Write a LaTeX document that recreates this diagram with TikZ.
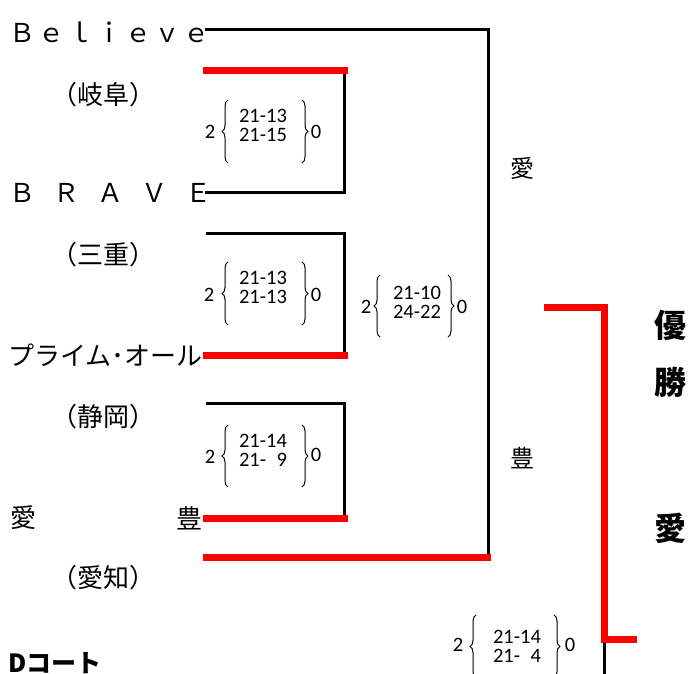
\documentclass[tikz,border=0pt]{standalone}
\usepackage{fontspec}
\usepackage{tikz}
\usetikzlibrary{decorations.pathreplacing}
\setmainfont{Noto Sans CJK JP}
\newfontfamily\scorefont{Carlito}
\definecolor{winred}{RGB}{255,0,0}
\tikzset{
  lost/.style={line width=3pt},
  won/.style={winred,line width=7pt},
  team/.style={font=\fontsize{26}{26}\selectfont,inner sep=0pt},
  mid/.style={font=\fontsize{24}{24}\selectfont,inner sep=0pt},
  champ/.style={font=\bfseries\fontsize{32}{32}\selectfont,inner sep=0pt},
  score/.style={font=\scorefont\fontsize{20.5}{19}\selectfont,align=center,inner sep=0pt},
  brace/.style={decorate,decoration={brace,amplitude=6pt},line width=1pt},
}

\begin{document}
\begin{tikzpicture}[x=1pt,y=-1pt]
        \clip (0,0) rectangle (693,674);
        % teams
        \node[team,anchor=west] (believe) at (9,32) {\addfontfeature{LetterSpace=12}Ｂｅｌｉｅｖｅ};
        \node[team] (gifu) at (103,95) {（岐阜）};
        \node[team,anchor=west] (brave) at (9,193) {\addfontfeature{LetterSpace=70}ＢＲＡＶＥ};
        \node[team] (mie) at (103,255) {（三重）};
        \node[team,anchor=east] (prime) at (203,355) {プライム･オール};
        \node[team] (shizuoka) at (103,417) {（静岡）};
        \node[team] (ai) at (23,518) {愛};
        \node[team,anchor=east] (yutaka) at (203,518) {豊};
        \node[team] (aichi) at (103,578) {（愛知）};
        \node[font=\bfseries\fontsize{25}{25}\selectfont,inner sep=0pt,anchor=west] (court) at (8,663) {Dコート};
        % bracket
        \draw[lost] (205,30)--(488,30)--(488,557);
        \draw[lost] (205,192)--(344,192)--(344,71);
        \draw[lost] (206,233)--(344,233)--(344,355);
        \draw[lost] (206,403)--(344,403)--(344,518);
        \draw[lost] (604,639)--(604,680);
        \foreach \y in {71,355,518} \draw[won] (203,\y)--(348,\y);
        \draw[won] (203,557)--(491,557);
        \draw[won] (544,307)--(604,307)--(604,639)--(637,639);
        \node[mid] (semiA) at (522,168) {愛};
        \node[mid] (semiB) at (522,458) {豊};
        \node[champ] (yu) at (670,325) {優};
        \node[champ] (sho) at (670,382) {勝};
        \node[champ] (winner) at (670,528) {愛};
        % scores
        \node[score] (s1) at (263,125) {21-13\\21-15};
        \draw[brace] (228,163)--(228,100); \draw[brace] (302,100)--(302,163);
        \node[score] (s1a) at (210,132) {2}; \node[score] (s1b) at (316,132) {0};
        \node[score] (s2) at (263,287) {21-13\\21-13};
        \draw[brace] (228,325)--(228,262); \draw[brace] (302,262)--(302,325);
        \node[score] (s2a) at (209,295) {2}; \node[score] (s2b) at (316,295) {0};
        \node[score] (s3) at (263,450) {21-14\\21-\hphantom{1}9};
        \draw[brace] (228,487)--(228,425); \draw[brace] (302,425)--(302,487);
        \node[score] (s3a) at (210,457) {2}; \node[score] (s3b) at (316,455) {0};
        \node[score] (s4) at (417,302) {21-10\\24-22};
        \draw[brace] (380,337)--(380,275); \draw[brace] (448,275)--(448,337);
        \node[score] (s4a) at (366,307) {2}; \node[score] (s4b) at (462,307) {0};
        \node[score] (s5) at (517,646) {21-14\\21-\hphantom{1}4};
        \draw[brace] (476,678)--(476,615); \draw[brace] (554,615)--(554,678);
        \node[score] (s5a) at (458,645) {2}; \node[score] (s5b) at (570,645) {0};
      \end{tikzpicture}
\end{document}
